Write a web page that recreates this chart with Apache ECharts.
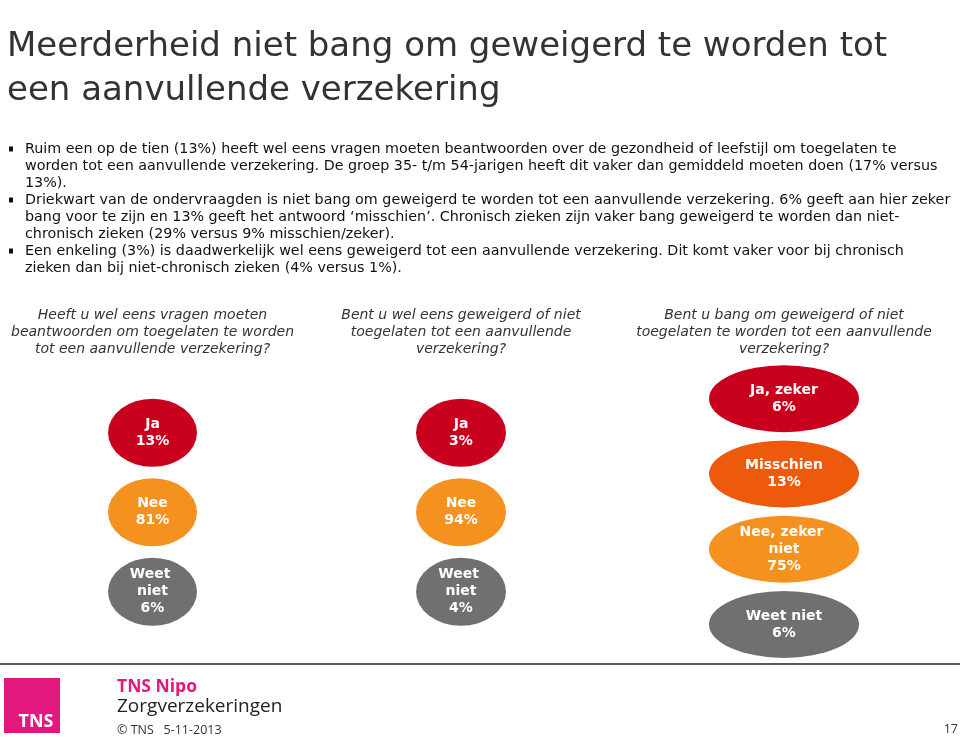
<!DOCTYPE html>
<html>
<head>
<meta charset="utf-8">
<script src="https://cdn.jsdelivr.net/npm/echarts@6/dist/echarts.min.js"></script>
<style>
html,body{margin:0;padding:0;background:#fff;}
#chart{width:960px;height:737px;}
</style>
</head>
<body>
<div id="chart"></div>
<script>
// ---- Data ----
const titleText = 'Meerderheid niet bang om geweigerd te worden tot\neen aanvullende verzekering';
const bulletLines = [
  'Ruim een op de tien (13%) heeft wel eens vragen moeten beantwoorden over de gezondheid of leefstijl om toegelaten te',
  'worden tot een aanvullende verzekering. De groep 35- t/m 54-jarigen heeft dit vaker dan gemiddeld moeten doen (17% versus',
  '13%).',
  'Driekwart van de ondervraagden is niet bang om geweigerd te worden tot een aanvullende verzekering. 6% geeft aan hier zeker',
  'bang voor te zijn en 13% geeft het antwoord \u2018misschien\u2019. Chronisch zieken zijn vaker bang geweigerd te worden dan niet-',
  'chronisch zieken (29% versus 9% misschien/zeker).',
  'Een enkeling (3%) is daadwerkelijk wel eens geweigerd tot een aanvullende verzekering. Dit komt vaker voor bij chronisch',
  'zieken dan bij niet-chronisch zieken (4% versus 1%).'
];
const bulletStarts = [0, 3, 6];

const questions = [
  'Heeft u wel eens vragen moeten\nbeantwoorden om toegelaten te worden\ntot een aanvullende verzekering?',
  'Bent u wel eens geweigerd of niet\ntoegelaten tot een aanvullende\nverzekering?',
  'Bent u bang om geweigerd of niet\ntoegelaten te worden tot een aanvullende\nverzekering?'
];
const answers1 = ['Ja', 'Nee', 'Weet niet'];
const values1 = [13, 81, 6];
const answers2 = ['Ja', 'Nee', 'Weet niet'];
const values2 = [3, 94, 4];
const answers3 = ['Ja, zeker', 'Misschien', 'Nee, zeker niet', 'Weet niet'];
const values3 = [6, 13, 75, 6];

// ---- Styles ----
const RED = '#C8001E', ORANGE = '#F5911E', DORANGE = '#EE5A0C', GREY = '#707070', MAGENTA = '#E2187E';
const colors1 = [RED, ORANGE, GREY];
const colors2 = [RED, ORANGE, GREY];
const colors3 = [RED, DORANGE, ORANGE, GREY];
const ELLIPSE = 'path://M0 50A50 50 0 1 1 100 50A50 50 0 1 1 0 50Z';

const groups = [
  {answers: answers1, values: values1, colors: colors1, grid: {left: 102.5, width: 100, top: 393, height: 238.5}, size: [89, 68], labelW: 60, margin: 35.5},
  {answers: answers2, values: values2, colors: colors2, grid: {left: 411, width: 100, top: 393, height: 238.5}, size: [90, 68], labelW: 60, margin: 35.5},
  {answers: answers3, values: values3, colors: colors3, grid: {left: 709, width: 150, top: 361, height: 301}, size: [150, 67], labelW: 110, margin: 3.5}
];

const chart = echarts.init(document.getElementById('chart'), null, {renderer: 'canvas'});

const grids = [], xAxes = [], yAxes = [], series = [];
groups.forEach((g, gi) => {
  grids.push(g.grid);
  xAxes.push({
    type: 'category', gridIndex: gi, data: [questions[gi]], position: 'top',
    axisLine: {show: false}, axisTick: {show: false}, splitLine: {show: false},
    axisLabel: {
      margin: g.margin, interval: 0, color: '#333', fontFamily: 'DejaVu Sans',
      fontStyle: 'italic', fontSize: 14, lineHeight: 17, align: 'center'
    }
  });
  yAxes.push({
    type: 'category', gridIndex: gi, data: g.answers, inverse: true, show: false
  });
  series.push({
    type: 'scatter', xAxisIndex: gi, yAxisIndex: gi,
    symbol: ELLIPSE, symbolSize: g.size, silent: true,
    data: g.answers.map((a, i) => ({name: a, value: [0, i, g.values[i]], itemStyle: {color: g.colors[i], opacity: 1}})),
    label: {
      show: true, position: 'inside', color: '#fff', fontFamily: 'DejaVu Sans', fontWeight: 'bold',
      fontSize: 14, lineHeight: 17, width: g.labelW, overflow: 'break', align: 'center',
      formatter: p => p.name + '\n' + p.value[2] + '%'
    }
  });
});

const graphics = [
  {type: 'text', x: 7, y: 25.75, style: {text: titleText, fontFamily: 'DejaVu Sans', fontSize: 34, lineHeight: 43.5, fill: '#333'}},
  {type: 'text', x: 25, y: 140.5, style: {text: bulletLines.join('\n'), fontFamily: 'DejaVu Sans', fontSize: 14.3, lineHeight: 17, fill: '#111'}}
];
bulletStarts.forEach(i => {
  graphics.push({type: 'rect', shape: {x: 9, y: 140.5 + i * 17 + 6, width: 4, height: 5}, style: {fill: '#111'}});
});
graphics.push(
  {type: 'rect', shape: {x: 0, y: 663, width: 960, height: 2}, style: {fill: '#5a5a5a'}},
  {type: 'rect', shape: {x: 4, y: 678, width: 56, height: 55}, style: {fill: MAGENTA}},
  {type: 'text', x: 36, y: 722, style: {text: 'TNS', fontFamily: 'Open Sans', fontWeight: 'bold', fontSize: 18, fill: '#fff', align: 'center', verticalAlign: 'middle'}},
  {type: 'text', x: 117, y: 687, style: {text: 'TNS Nipo', fontFamily: 'Open Sans', fontWeight: 'bold', fontSize: 17.5, fill: MAGENTA, verticalAlign: 'middle'}},
  {type: 'text', x: 117, y: 707, style: {text: 'Zorgverzekeringen', fontFamily: 'Open Sans', fontSize: 19, fill: '#222', verticalAlign: 'middle'}},
  {type: 'text', x: 117, y: 730, style: {text: '\u00A9 TNS   5-11-2013', fontFamily: 'Open Sans', fontSize: 12.5, fill: '#333', verticalAlign: 'middle'}},
  {type: 'text', x: 958, y: 729, style: {text: '17', fontFamily: 'Open Sans', fontSize: 12.5, fill: '#333', align: 'right', verticalAlign: 'middle'}}
);

chart.setOption({
  backgroundColor: '#fff',
  animation: false,
  grid: grids,
  xAxis: xAxes,
  yAxis: yAxes,
  series: series,
  graphic: graphics
});
</script>
</body>
</html>
